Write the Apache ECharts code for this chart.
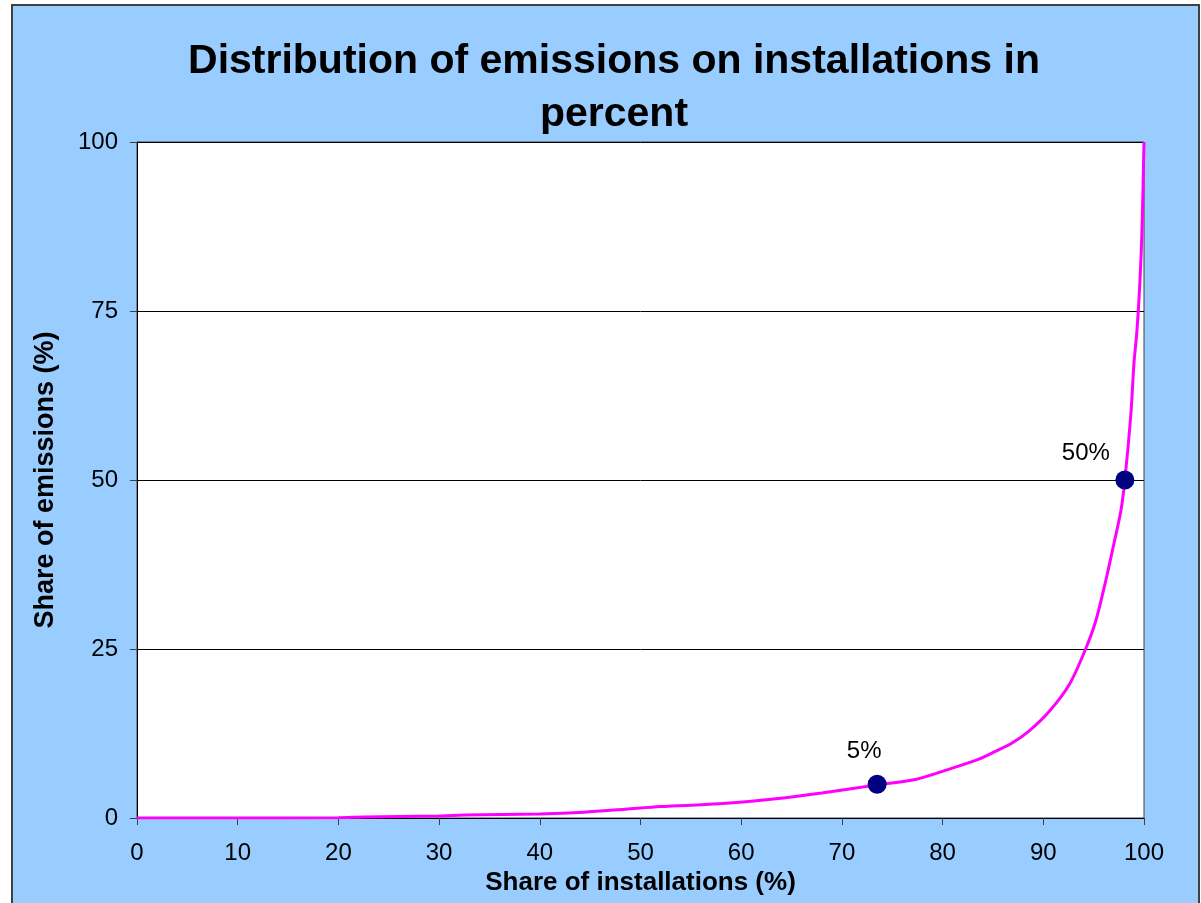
<!DOCTYPE html>
<html>
<head>
<meta charset="utf-8">
<script src="https://cdn.jsdelivr.net/npm/echarts@6/dist/echarts.min.js"></script>
<style>
html,body{margin:0;padding:0;background:#fff;overflow:hidden;}
#frame{position:absolute;left:11px;top:4px;width:1185px;height:920px;border:2px solid #404040;background:#99CCFF;}
#chart{position:absolute;left:0;top:0;width:1201px;height:903px;}
</style>
</head>
<body>
<div id="frame"></div>
<div id="chart"></div>
<script>
const titleText = "Distribution of emissions on installations in\npercent";
const xName = "Share of installations (%)";
const yName = "Share of emissions (%)";
const shareInstallations = [0, 10, 20, 22.5, 30, 32.5, 40, 44.4, 48.5, 52, 57.8, 64.4, 68, 73.5, 77.3, 80.6, 83.6, 85.3, 86.9, 88.6, 90.6, 92.6, 94.2, 95.2, 96.2, 97, 97.7, 98.1, 98.7, 99, 99.3, 99.6, 99.8, 100];
const shareEmissions = [0, 0, 0.05, 0.15, 0.3, 0.45, 0.6, 0.85, 1.3, 1.7, 2.1, 3.0, 3.7, 4.9, 5.7, 7.2, 8.7, 9.9, 11.1, 12.9, 15.8, 19.8, 25.0, 29.1, 35.1, 40.5, 45.4, 50, 59.8, 67.2, 72.1, 79.5, 86.9, 100];
const markerX = [73.5, 98.1];
const markerY = [5, 50];
const markerLabels = ["5%", "50%"];
const xTicks = [0, 10, 20, 30, 40, 50, 60, 70, 80, 90, 100];
const yTicks = [0, 25, 50, 75, 100];

const lineData = shareInstallations.map((x, i) => [x, shareEmissions[i]]);
const markerData = markerX.map((x, i) => ({value: [x, markerY[i]], label: {formatter: markerLabels[i], offset: i === 0 ? [-13, -3] : [-39, 3]}}));

const chart = echarts.init(document.getElementById('chart'), null, {renderer: 'canvas'});
const ff = '"Liberation Sans", Arial, sans-serif';
chart.setOption({
  backgroundColor: 'transparent',
  animation: false,
  title: {
    text: titleText,
    left: 609, textAlign: 'center',
    top: 30,
    textStyle: {fontFamily: ff, fontSize: 41, fontWeight: 'bold', color: '#000', lineHeight: 53}
  },
  grid: {left: 137, right: 57, top: 142, bottom: 85, show: true, backgroundColor: '#fff', borderColor: '#404040', borderWidth: 1, containLabel: false},
  xAxis: {
    type: 'value', min: 0, max: 100, interval: 10,
    name: xName, nameLocation: 'middle', nameGap: 51,
    nameTextStyle: {fontFamily: ff, fontSize: 26, fontWeight: 'bold', color: '#000'},
    axisLine: {show: true, lineStyle: {color: '#000', width: 1}},
    axisTick: {show: true, length: 7, inside: false, lineStyle: {color: '#404040'}},
    axisLabel: {fontFamily: ff, fontSize: 24, color: '#000', margin: 23,
      formatter: v => xTicks.includes(v) ? String(v) : ''},
    splitLine: {show: false}
  },
  yAxis: {
    type: 'value', min: 0, max: 100, interval: 25,
    name: yName, nameLocation: 'middle', nameGap: 78, nameRotate: 90,
    nameTextStyle: {fontFamily: ff, fontSize: 27, fontWeight: 'bold', color: '#000'},
    axisLine: {show: true, lineStyle: {color: '#000', width: 1}},
    axisTick: {show: true, length: 7, inside: false, lineStyle: {color: '#404040'}},
    axisLabel: {fontFamily: ff, fontSize: 24, color: '#000', margin: 19,
      formatter: v => yTicks.includes(v) ? String(v) : ''},
    splitLine: {show: true, lineStyle: {color: '#000', width: 1}}
  },
  series: [
    {
      type: 'line', data: lineData, symbol: 'none', smooth: 0.3,
      lineStyle: {color: '#FF00FF', width: 3}, z: 2
    },
    {
      type: 'scatter', data: markerData, symbol: 'circle', symbolSize: 19,
      itemStyle: {color: '#000080', opacity: 1}, z: 3,
      label: {show: true, position: 'top', distance: 8, fontFamily: ff, fontSize: 24, color: '#000'}
    }
  ]
});
</script>
</body>
</html>
